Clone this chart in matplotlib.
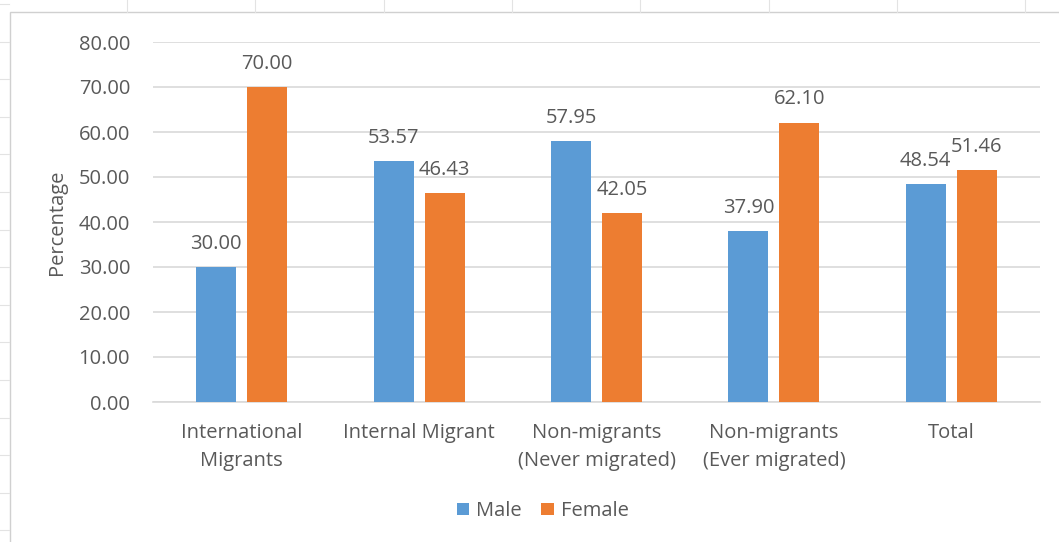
import numpy as np
import matplotlib.pyplot as plt
from matplotlib.patches import Rectangle
from matplotlib.lines import Line2D

# data
categories = ["International\nMigrants", "Internal Migrant",
              "Non-migrants\n(Never migrated)", "Non-migrants\n(Ever migrated)", "Total"]
male = [30.00, 53.57, 57.95, 37.90, 48.54]
female = [70.00, 46.43, 42.05, 62.10, 51.46]

BLUE = "#5b9bd5"
ORANGE = "#ed7d31"
TEXT = "#595959"
GRID = "#d9d9d9"
FS = 14.5

plt.rcParams["font.family"] = ["Open Sans", "DejaVu Sans"]

W, H = 1059, 542
fig = plt.figure(figsize=(W / 100, H / 100), dpi=100)

# faint spreadsheet cells outside the chart frame
for yp in np.arange(4, H, 37.6):
    fig.add_artist(Line2D([0, 9 / W], [1 - yp / H, 1 - yp / H], color="#e3e3e3", lw=0.8))
for xp in np.arange(127, W, 128.3):
    fig.add_artist(Line2D([xp / W, xp / W], [1 - 12 / H, 1], color="#e3e3e3", lw=0.8))

# chart frame
fig.add_artist(Rectangle((9.5 / W, -0.01), 1.1, 1 - 12.5 / H + 0.01,
                         transform=fig.transFigure, fill=False,
                         edgecolor="#d0d0d0", lw=1.0))

ax = fig.add_axes([153 / W, 1 - 402 / H, (1040 - 153) / W, 360 / H])

x = np.arange(len(categories))
w = 0.2255
gap = 0.062
b1 = ax.bar(x - (w + gap) / 2, male, w, color=BLUE, label="Male", zorder=3)
b2 = ax.bar(x + (w + gap) / 2, female, w, color=ORANGE, label="Female", zorder=3)

for bars, vals in ((b1, male), (b2, female)):
    for r, v in zip(bars, vals):
        ax.text(r.get_x() + r.get_width() / 2, v + 2.9, f"{v:.2f}",
                ha="center", va="bottom", fontsize=FS, color=TEXT)

ax.set_xlim(-0.5, len(categories) - 0.5)
ax.set_ylim(0, 80)
ax.set_yticks(np.arange(0, 81, 10))
ax.set_yticklabels([f"{v:.2f}" for v in np.arange(0, 81, 10)])
ax.yaxis.grid(True, color=GRID, lw=1.2, zorder=0)
ax.set_axisbelow(True)
ax.set_xticks(x)
ax.set_xticklabels(categories, linespacing=1.55)
ax.tick_params(axis="both", length=0, labelsize=FS, colors=TEXT)
ax.tick_params(axis="y", pad=16.5)
ax.tick_params(axis="x", pad=15)
for s in ("top", "right", "left"):
    ax.spines[s].set_visible(False)
ax.spines["bottom"].set_color(GRID)
ax.spines["bottom"].set_linewidth(1.2)

ax.set_ylabel("Percentage", fontsize=FS, color=TEXT, labelpad=8)

fig.legend(handles=[b1, b2], loc="center", bbox_to_anchor=(0.5 + 13 / W, 1 - 511 / H),
           ncol=2, frameon=False, fontsize=FS, handlelength=0.6, handleheight=0.6,
           handletextpad=0.35, columnspacing=1.0, labelcolor=TEXT)

fig.savefig("out.png", dpi=100)
